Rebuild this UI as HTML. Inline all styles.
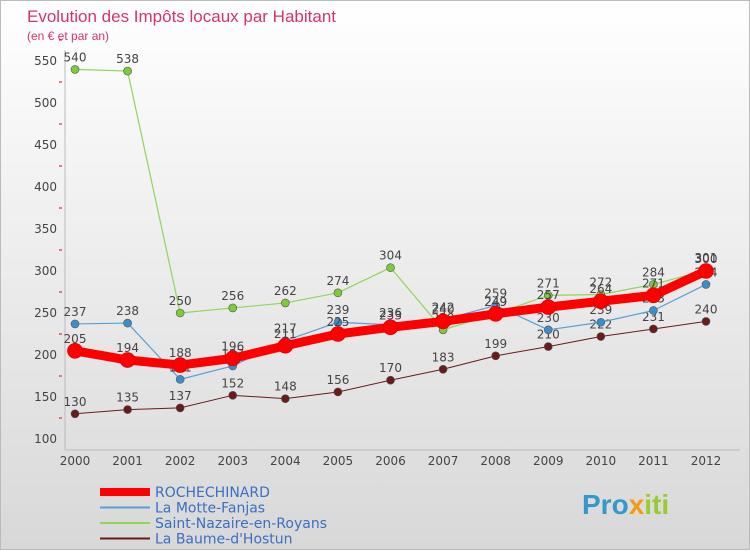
<!DOCTYPE html>
<html><head><meta charset="utf-8"><style>
body{margin:0;width:750px;height:550px;overflow:hidden;font-family:"DejaVu Sans","Liberation Sans",sans-serif}
</style></head><body>
<svg width="750" height="550" xmlns="http://www.w3.org/2000/svg">
<defs><linearGradient id="bg" x1="0" y1="0" x2="0" y2="1"><stop offset="0" stop-color="#ffffff"/><stop offset="1" stop-color="#d8d8d8"/></linearGradient></defs>
<rect x="0.5" y="0.5" width="749" height="549" fill="url(#bg)" stroke="#bbb"/>
<text x="27" y="22" font-size="17" fill="#d6336c" font-family="Liberation Sans">Evolution des Impôts locaux par Habitant</text>
<text x="27" y="40" font-size="12" fill="#d6336c" font-family="Liberation Sans">(en € et par an)</text>
<line x1="65" y1="50" x2="65" y2="450" stroke="#bbb"/>
<line x1="65" y1="450" x2="740" y2="450" stroke="#bbb"/>
<g id="yt"></g><g id="xt"></g><g id="series"></g><g id="legend"></g>
<text x="582" y="514" font-size="28" font-weight="bold" fill="#3399cc" font-family="Liberation Sans">Pro<tspan fill="#f39c12">x</tspan><tspan fill="#99cc33">iti</tspan></text>
</svg>
<script>
const years=[2000,2001,2002,2003,2004,2005,2006,2007,2008,2009,2010,2011,2012];
const yTicks=[100,150,200,250,300,350,400,450,500,550];
const roche=[205,194,188,196,211,225,233,240,249,257,264,271,300];
const motte=[237,238,171,187,217,239,236,242,259,230,239,253,284];
const nazaire=[540,538,250,256,262,274,304,230,249,271,272,284,301];
const baume=[130,135,137,152,148,156,170,183,199,210,222,231,240];
const NS="http://www.w3.org/2000/svg";
const X=i=>75+i*(631/12);
const Y=v=>439-(v-100)*(378/450);
function mk(t,a,p){const e=document.createElementNS(NS,t);for(const k in a)e.setAttribute(k,a[k]);(p||document.querySelector('svg')).appendChild(e);return e;}
const yt=document.getElementById('yt');
yTicks.forEach(v=>{const t=mk('text',{x:57,y:Y(v)+4,'font-size':12,fill:'#444','text-anchor':'end'},yt);t.textContent=v;


const m=mk('line',{x1:59,x2:62,y1:Y(v+25),y2:Y(v+25),stroke:'#e00'},yt);

});
const xt=document.getElementById('xt');
years.forEach((y,i)=>{const t=mk('text',{x:X(i),y:465,'font-size':12,fill:'#444','text-anchor':'middle'},xt);t.textContent=y;

});
const S=[
 {n:'La Baume-d\'Hostun',d:baume,c:'#6b1a1a',w:1,r:4,id:'baume'},
 {n:'Saint-Nazaire-en-Royans',d:nazaire,c:'#8fd65a',w:1.2,r:4,id:'nazaire',fc:'#7ccc3a'},
 {n:'La Motte-Fanjas',d:motte,c:'#5a9fd4',w:1.2,r:4,id:'motte',fc:'#3a8ed0'},
 {n:'ROCHECHINARD',d:roche,c:'#ff0000',w:9,r:7.5,id:'roche'}];
const sg=document.getElementById('series');
S.forEach(s=>{const g=mk('g',{},sg);


const l=mk('polyline',{points:s.d.map((v,i)=>X(i)+','+Y(v)).join(' '),fill:'none',stroke:s.c,'stroke-width':s.w,'stroke-linejoin':'round'},g);


s.d.forEach((v,i)=>{const c=mk('circle',{cx:X(i),cy:Y(v),r:s.r,fill:s.fc||s.c,stroke:s.id=='roche'?'#c00':'#555','stroke-width':0.6},g);


const t=mk('text',{x:X(i),y:Y(v)-8,'font-size':12,fill:'#444','text-anchor':'middle'},g);t.textContent=v;

});});
const lg=document.getElementById('legend');
const L=[['ROCHECHINARD','#ff0000',8],['La Motte-Fanjas','#5a9fd4',2],['Saint-Nazaire-en-Royans','#8fd65a',2],['La Baume-d\'Hostun','#6b1a1a',2]];
L.forEach((e,i)=>{const y=492+i*15.5;
const ln=mk('line',{x1:100,x2:150,y1:y,y2:y,stroke:e[1],'stroke-width':e[2]},lg);


const t=mk('text',{x:155,y:y+5,'font-size':14,fill:'#3a6fc4'},lg);t.textContent=e[0];

});
</script>
</body></html>
